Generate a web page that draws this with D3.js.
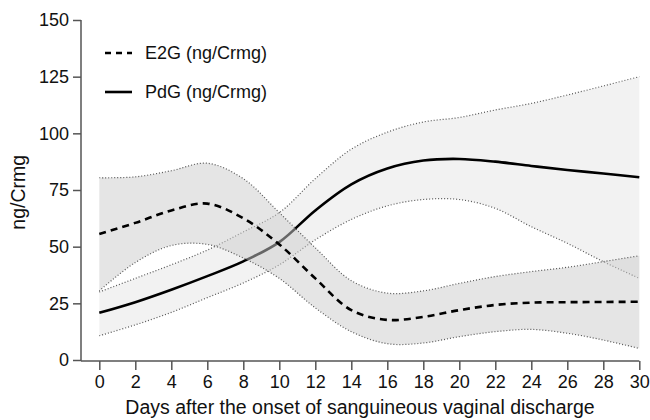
<!DOCTYPE html>
<html>
<head>
<meta charset="utf-8">
<script src="https://cdn.jsdelivr.net/npm/d3@7"></script>
<style>
  body { margin: 0; background: #fff; }
  svg { display: block; font-family: "Liberation Sans", Arial, sans-serif; }
  .axis text { font-size: 18px; fill: #111; }
  .axis path, .axis line { stroke: #555; stroke-width: 1.5px; }
</style>
</head>
<body>
<svg width="650" height="420"></svg>
<script>
// days after onset, every 2 days
const days = [0, 2, 4, 6, 8, 10, 12, 14, 16, 18, 20, 22, 24, 26, 28, 30];

// E2G (ng/Crmg): mean and band
const e2gMean  = [55.6, 60.5, 66, 69, 62.5, 51, 36, 22, 17.7, 19, 22, 24.3, 25.3, 25.5, 25.6, 25.7];
const e2gUpper = [80.4, 80.8, 83.5, 86.8, 80, 65, 49.5, 35, 29.5, 30.5, 33.8, 36.8, 39, 40.9, 43.4, 46];
const e2gLower = [30.5, 43, 50.5, 51, 45, 36, 23, 12.5, 7.2, 7.5, 10.3, 12.5, 13.5, 11.8, 8.8, 5.1];

// PdG (ng/Crmg): mean and band
const pdgMean  = [20.8, 25.5, 31, 37, 43.5, 52, 66, 77.5, 84.5, 88, 88.7, 87.5, 85.6, 83.8, 82.3, 80.6];
const pdgUpper = [30, 36, 42, 48.5, 56.5, 65, 80, 93, 100.5, 105, 107, 110.3, 113.2, 116.9, 120.9, 125];
const pdgLower = [10.7, 15.5, 21, 27.5, 34, 42, 53, 62, 68, 70.8, 70.8, 66.9, 58.8, 51.5, 43.4, 36];

const yTicks = [0, 25, 50, 75, 100, 125, 150];
const xTicks = d3.range(0, 31, 2);
const legendItems = ["E2G (ng/Crmg)", "PdG (ng/Crmg)"];

const svg = d3.select("svg");
const x = d3.scaleLinear().domain([0, 30]).range([99.3, 639.3]);
const y = d3.scaleLinear().domain([0, 150]).range([360, 20]);
const axisLeftX = 81, axisBottomY = 361;

const curve = d3.curveCatmullRom.alpha(0.5);

function rows(mean, lo, hi) {
  return days.map((d, i) => ({ d: d, m: mean[i], lo: lo[i], hi: hi[i] }));
}
const e2g = rows(e2gMean, e2gLower, e2gUpper);
const pdg = rows(pdgMean, pdgLower, pdgUpper);

const area = d3.area().curve(curve).x(r => x(r.d)).y0(r => y(r.lo)).y1(r => y(r.hi));
const line = key => d3.line().curve(curve).x(r => x(r.d)).y(r => y(r[key]));

// PdG band + lines
svg.append("path").datum(pdg).attr("d", area).attr("fill", "#f2f2f2");
["lo", "hi"].forEach(k => {
  svg.append("path").datum(pdg).attr("d", line(k))
    .attr("fill", "none").attr("stroke", "#555").attr("stroke-width", 1.2)
    .attr("stroke-dasharray", "1,2");
});
svg.append("path").datum(pdg).attr("d", line("m"))
  .attr("fill", "none").attr("stroke", "#000").attr("stroke-width", 2.6);

// E2G band drawn over it (semi-transparent)
svg.append("path").datum(e2g).attr("d", area).attr("fill", "#cccccc").attr("fill-opacity", 0.5);
["lo", "hi"].forEach(k => {
  svg.append("path").datum(e2g).attr("d", line(k))
    .attr("fill", "none").attr("stroke", "#555").attr("stroke-width", 1.2)
    .attr("stroke-dasharray", "1,2");
});
svg.append("path").datum(e2g).attr("d", line("m"))
  .attr("fill", "none").attr("stroke", "#000").attr("stroke-width", 2.6)
  .attr("stroke-dasharray", "7,5");

// y axis
const gy = svg.append("g").attr("class", "axis")
  .attr("transform", `translate(${axisLeftX},0)`)
  .call(d3.axisLeft(y).tickValues(yTicks).tickSize(8).tickSizeOuter(0).tickPadding(4));
gy.select(".domain").attr("d", `M0,${y(150)}V${axisBottomY}`);

// x axis
const gx = svg.append("g").attr("class", "axis")
  .attr("transform", `translate(0,${axisBottomY})`)
  .call(d3.axisBottom(x).tickValues(xTicks).tickSize(9).tickSizeOuter(0).tickPadding(5));
gx.select(".domain").attr("d", `M${axisLeftX},0H${x(30)}`);

// axis titles
svg.append("text")
  .attr("x", 360).attr("y", 414)
  .attr("text-anchor", "middle").attr("font-size", 19.5).attr("fill", "#111")
  .text("Days after the onset of sanguineous vaginal discharge");
svg.append("text")
  .attr("transform", `translate(25,${y(74)}) rotate(-90)`)
  .attr("text-anchor", "middle").attr("font-size", 19.5).attr("fill", "#111")
  .text("ng/Crmg");

// legend
const leg = svg.append("g").selectAll("g").data(legendItems).enter().append("g")
  .attr("transform", (d, i) => `translate(105,${53 + i * 39})`);
leg.append("line").attr("x1", 0).attr("x2", 27).attr("y1", 0).attr("y2", 0)
  .attr("stroke", "#000").attr("stroke-width", 2.6)
  .attr("stroke-dasharray", (d, i) => i === 0 ? "6,5" : null);
leg.append("text").attr("x", 40).attr("y", 0).attr("dy", "0.35em")
  .attr("font-size", 18).attr("fill", "#111").text(d => d);
</script>
</body>
</html>
